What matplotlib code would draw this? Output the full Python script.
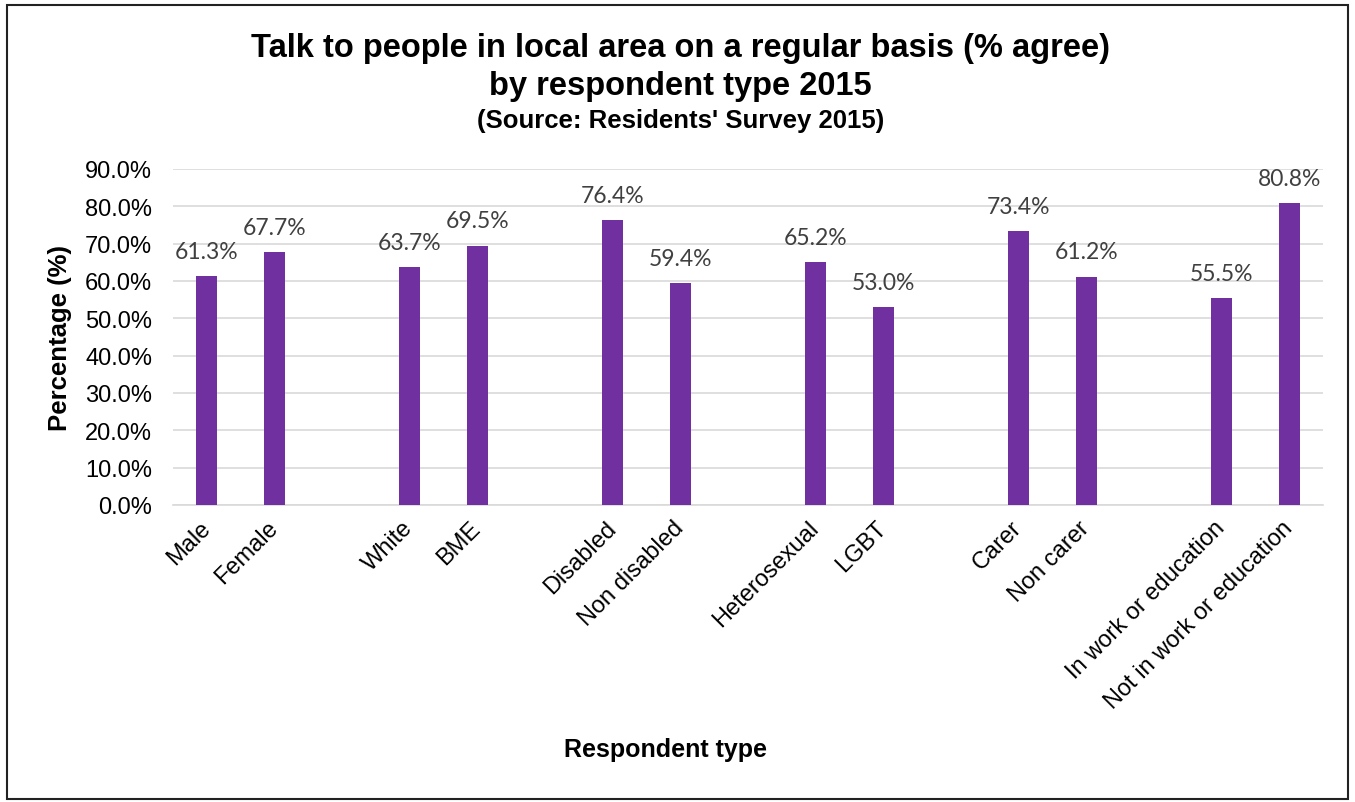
import matplotlib
matplotlib.use("Agg")
import matplotlib.pyplot as plt
from matplotlib.patches import Rectangle
from matplotlib.ticker import FuncFormatter, MultipleLocator

plt.rcParams["font.family"] = ["Liberation Sans", "DejaVu Sans"]

# blank entries leave a gap between each pair of respondent types
categories = ["Male", "Female", "", "White", "BME", "", "Disabled", "Non disabled", "",
              "Heterosexual", "LGBT", "", "Carer", "Non carer", "",
              "In work or education", "Not in work or education"]
values = [61.3, 67.7, None, 63.7, 69.5, None, 76.4, 59.4, None,
          65.2, 53.0, None, 73.4, 61.2, None, 55.5, 80.8]

bar_color = "#7030A0"

fig = plt.figure(figsize=(13.55, 8.03), dpi=100)
ax = fig.add_axes([0.1277, 0.3699, 0.8487, 0.4184])

xs = list(range(len(categories)))
for x, v in zip(xs, values):
    if v is None:
        continue
    ax.bar(x, v, width=0.31, color=bar_color, zorder=3)
    ax.annotate(f"{v:.1f}%", (x, v), xytext=(0, 13), textcoords="offset points",
                ha="center", va="baseline", fontsize=16.5, color="#404040",
                family=["Lato", "DejaVu Sans"])

ax.set_xlim(-0.5, len(categories) - 0.5)
ax.set_ylim(0, 90)
ax.yaxis.set_major_locator(MultipleLocator(10))
ax.yaxis.set_major_formatter(FuncFormatter(lambda v, _: f"{v:.1f}%"))
ax.grid(axis="y", color="#d9d9d9", lw=1.2, zorder=0)
ax.set_axisbelow(True)
for s in ["top", "right", "left"]:
    ax.spines[s].set_visible(False)
ax.spines["bottom"].set_color("#d9d9d9")
ax.spines["bottom"].set_linewidth(1.2)
ax.tick_params(axis="both", length=0, labelsize=17, colors="black")
ax.tick_params(axis="y", pad=15)

ax.set_xticks(xs)
ax.set_xticklabels(categories, rotation=45, ha="right", va="center",
                   rotation_mode="anchor")
ax.tick_params(axis="x", pad=14)

ax.set_ylabel("Percentage (%)", fontsize=18.5, fontweight="bold")
ax.yaxis.set_label_coords(-0.088, 0.5)
fig.text(0.491, 0.066, "Respondent type", ha="center", va="center",
         fontsize=18, fontweight="bold")

fig.text(0.502, 0.929, "Talk to people in local area on a regular basis (% agree)",
         ha="center", va="baseline", fontsize=23.5, fontweight="bold")
fig.text(0.502, 0.882, "by respondent type 2015",
         ha="center", va="baseline", fontsize=23.5, fontweight="bold")
fig.text(0.502, 0.841, "(Source: Residents' Survey 2015)",
         ha="center", va="baseline", fontsize=18.5, fontweight="bold")

fig.patches.append(Rectangle((0.005, 0.004), 0.99, 0.988, transform=fig.transFigure,
                             fill=False, edgecolor="#222222", lw=1.5))

fig.savefig("out.png", dpi=100, facecolor="white")
